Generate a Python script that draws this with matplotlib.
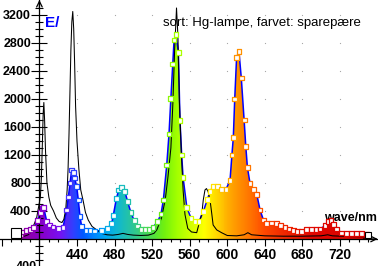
import numpy as np
import matplotlib
matplotlib.use("Agg")
import matplotlib.pyplot as plt
from matplotlib.colors import LinearSegmentedColormap, Normalize
from matplotlib.patches import Polygon

# black: Hg lamp ("sort")
hg_nm = [380, 384, 388, 391, 394, 397, 399, 401, 402, 403, 404, 404.7, 405.5, 406.5,
         408, 410, 412, 415, 418, 421, 424, 426, 428, 429.5, 430.5, 431.5, 432.5,
         433.5, 434.5, 435.5, 436.5, 437.5, 438.5, 440, 442, 444, 446.5, 449, 452,
         456, 461, 466, 472, 478, 484, 489, 494, 500, 508, 516, 522, 525, 530, 534,
         537, 540, 542, 544, 546, 547.5, 549, 551, 553, 555, 558, 562, 567.5, 571,
         573, 574.5, 576.3, 577.9, 579.7, 581.7, 583.5, 585, 588.8, 594, 600, 610,
         618, 622, 626, 640, 660, 680, 700, 707, 712, 730, 750]
hg_val = [30, 40, 60, 100, 200, 300, 450, 600, 850, 1300, 1800, 1950, 1700, 1250,
          800, 600, 480, 400, 300, 250, 235, 280, 420, 700, 1000, 1500, 2100,
          2700, 3100, 3250, 3000, 2500, 1900, 1400, 1000, 700, 550, 380, 270,
          180, 130, 80, 60, 55, 65, 80, 65, 55, 50, 55, 80, 130, 300, 560,
          900, 1300, 1900, 2700, 3300, 2900, 2000, 1270, 700, 350, 150, 100, 90, 270,
          367, 557, 700, 720, 675, 557, 367, 200, 130, 90, 50, 45,
          60, 90, 60, 45, 40, 40, 45, 60, 45, 35, 30]

# coloured: energy saving lamp ("sparepære")
cfl_nm = [380, 382, 386.5, 390.7, 394, 398, 401, 403.5, 404.5, 407.8, 410.5, 414.5,
          420, 425, 429, 430.8, 432.6, 434.4, 436, 437.5, 439.7, 441.4, 443.2, 445,
          449.6, 454, 459, 466, 472.7, 477, 478.7, 482, 484.5, 487, 491, 494, 497.5,
          501, 504.7, 509, 513, 516.7, 521, 526, 529.5, 532, 535.6, 538, 540, 542,
          543.4, 545.5, 548, 549.7, 551.5, 553, 557, 561.5, 565.7, 570, 574.5, 578.7,
          581.7, 585, 589.5, 594, 598.7, 603, 605, 606.5, 608, 610, 612.5, 615, 618,
          619.8, 621.5, 624.3, 628, 631.6, 635, 638.6, 642, 647.4, 652.7, 657, 661.6,
          666.1, 670.4, 674.7, 679.3, 684.7, 690, 694.6, 698.9, 704.2, 707.7, 710.5,
          713, 716.6, 721.9, 727.3, 732.6, 737.9, 743.2, 748]
cfl_val = [60, 100, 120, 130, 160, 260, 380, 430, 450, 250, 200, 170,
           155, 160, 414, 600, 800, 985, 950, 870, 750, 557, 320, 175,
           120, 120, 115, 120, 150, 225, 340, 580, 700, 740, 680, 530, 375,
           260, 185, 140, 130, 140, 167, 250, 357, 557, 1057, 1500, 2010, 2500,
           2843, 2920, 2660, 1690, 1200, 880, 450, 295, 250, 250, 390, 560,
           675, 755, 755, 710, 710, 838, 1200, 1447, 2000, 2595, 2680, 2300, 1700,
           1320, 1024, 795, 710, 630, 414, 270, 225, 228, 224, 190, 167,
           143, 124, 110, 110, 133, 133, 133, 143, 190, 253, 260,
           204, 143, 86, 81, 77, 77, 77, 70]

spec_anchor_nm = [380, 400, 420, 435, 445, 458, 470, 482, 492, 505, 520, 532, 545,
                  560, 575, 588, 600, 612, 625, 640, 660, 690, 750]
spec_anchor_col = ["#9000a0", "#8800c8", "#7a10f0", "#3040ff", "#0058ff", "#0088ff",
                   "#00a8f0", "#10b8d0", "#20c0b0", "#38cc80", "#50e040", "#70f010",
                   "#a0ff00", "#d0ff00", "#ffff00", "#ffd800", "#ffb000", "#ff9000",
                   "#ff7000", "#ff4800", "#f02800", "#e00800", "#d80000"]

lo, hi = spec_anchor_nm[0], spec_anchor_nm[-1]
spec = LinearSegmentedColormap.from_list(
    "spec", [((n - lo) / (hi - lo), c) for n, c in zip(spec_anchor_nm, spec_anchor_col)])
norm = Normalize(lo, hi)

plt.rcParams['font.family'] = ['Liberation Sans', 'DejaVu Sans']
fig = plt.figure(figsize=(3.78, 2.66), dpi=100)
ax = fig.add_axes([0, 0, 1, 1])

# coloured fill, clipped to the spectrum outline
verts = [(cfl_nm[0], 0)] + list(zip(cfl_nm, cfl_val)) + [(cfl_nm[-1], 0)]
poly = Polygon(verts, closed=True, facecolor='none', edgecolor='none')
ax.add_patch(poly)
cols = np.linspace(cfl_nm[0], cfl_nm[-1], 500)
grad = spec(norm(cols))[np.newaxis, :, :]
im = ax.imshow(grad, extent=[cfl_nm[0], cfl_nm[-1], 0, 3400], aspect='auto',
               origin='lower', zorder=1, interpolation='bilinear')
im.set_clip_path(poly)

ax.plot(cfl_nm, cfl_val, color='#0000ff', lw=1.1, zorder=2)
ax.plot(hg_nm, hg_val, color='black', lw=0.75, zorder=3)
ax.scatter(cfl_nm, cfl_val, marker='s', s=12, facecolors='white',
           edgecolors=spec(norm(np.array(cfl_nm))), linewidths=0.9, zorder=4)

# end handles
ax.plot([375], [80], marker='s', ms=6.5, mfc='white', mec='black', mew=0.8, zorder=5)
ax.plot([750], [57], marker='s', ms=5, mfc='white', mec='black', mew=0.8, zorder=5)

ax.set_xlim(358, 760.6)
ax.set_ylim(-386, 3414)

# grid dots
gx, gy = np.meshgrid(np.arange(440, 760, 40), np.arange(400, 3600, 400))
ax.plot(gx.ravel(), gy.ravel(), ls='none', marker='s', ms=0.8, color='#a8a8a8',
        mew=0, zorder=0)

for s in ['top', 'right']:
    ax.spines[s].set_visible(False)
ax.spines['left'].set_position(('data', 400))
ax.spines['bottom'].set_position(('data', 0))
ax.spines['left'].set_linewidth(0.9)
ax.spines['bottom'].set_linewidth(0.9)

ax.set_xticks(np.arange(360, 760, 40))
ax.set_xticklabels(['', ''] + [str(v) for v in range(440, 760, 40)])
ax.set_xticks(np.arange(360, 760, 10), minor=True)
ax.set_yticks(np.arange(400, 3600, 400))
ax.set_yticks(np.arange(-300, 3400, 100), minor=True)
ax.tick_params(axis='x', which='major', direction='out', length=5, width=0.8, pad=1.5,
               labelsize=10)
ax.tick_params(axis='x', which='minor', direction='out', length=2, width=0.8)
ax.tick_params(axis='y', which='major', direction='inout', length=11.5, width=0.8,
               pad=0.3, labelsize=9)
ax.tick_params(axis='y', which='minor', direction='inout', length=5.8, width=0.8)
for lab in ax.get_xticklabels() + ax.get_yticklabels():
    lab.set_fontweight('bold')
ax.text(397.5, -400, '400', ha='right', va='center', fontsize=9, fontweight='bold')

# axis arrows
ax.annotate('', xy=(400, 3414), xytext=(400, 3300),
            arrowprops=dict(arrowstyle='->', lw=0.9, color='black',
                            shrinkA=0, shrinkB=0))
ax.annotate('', xy=(760.3, 0), xytext=(745, 0),
            arrowprops=dict(arrowstyle='->', lw=0.9, color='black',
                            shrinkA=0, shrinkB=0))

ax.text(0.119, 0.915, 'E/', transform=ax.transAxes, color='#0000ff', fontsize=11,
        fontweight='bold', ha='left', va='center')
ax.text(0.693, 0.913, 'sort: Hg-lampe, farvet: sparepære', transform=ax.transAxes,
        fontsize=9.5, ha='center', va='center')
ax.text(0.997, 0.18, 'wave/nm', transform=ax.transAxes, fontsize=9,
        fontweight='bold', ha='right', va='center')

fig.savefig('out.png', dpi=100)
